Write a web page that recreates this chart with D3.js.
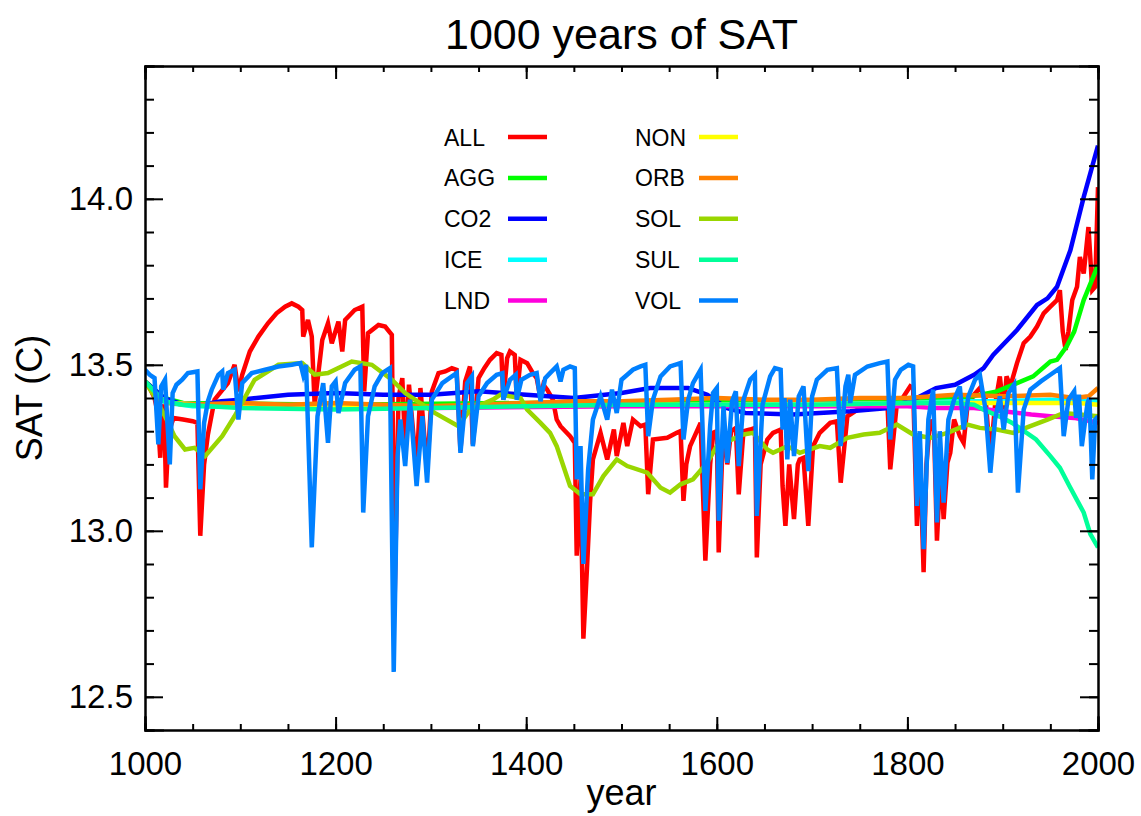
<!DOCTYPE html>
<html>
<head>
<meta charset="utf-8">
<script src="https://cdn.jsdelivr.net/npm/d3@7"></script>
<style>
  body { margin: 0; background: #fff; }
  svg { display: block; font-family: "Liberation Sans", Arial, Helvetica, sans-serif; }
  .axis path, .axis line { stroke: #000; stroke-width: 2px; }
  .axis text { fill: #000; }
</style>
</head>
<body>
<svg></svg>
<script>
// series as [year, SAT]
let names = ["ALL", "AGG", "CO2", "ICE", "LND", "NON", "ORB", "SOL", "SUL", "VOL"]
let colors = ["#ff0000", "#00ff00", "#0000ff", "#00ffff", "#ff00dd", "#ffff00", "#ff8000", "#99d600", "#00ff99", "#0080ff"]

let ALL = [[1000,13.45],[1005,13.43],[1010,13.40],[1013,13.36],[1016,13.22],[1018,13.36],[1020,13.38],[1022,13.13],[1025,13.30],[1030,13.34],[1040,13.335],[1050,13.33],[1055,13.325],[1058,12.985],[1062,13.20],[1066,13.29],[1073,13.395],[1080,13.42],[1087,13.445],[1094,13.50],[1098,13.42],[1102,13.47],[1110,13.54],[1119,13.585],[1129,13.625],[1138,13.655],[1147,13.675],[1154,13.685],[1161,13.675],[1165,13.665],[1166,13.585],[1171,13.635],[1175,13.585],[1178,13.38],[1186,13.575],[1192,13.625],[1196,13.565],[1203,13.63],[1207,13.54],[1210,13.635],[1220,13.665],[1228,13.675],[1230,13.42],[1234,13.595],[1245,13.62],[1252,13.615],[1259,13.59],[1262,12.80],[1266,13.40],[1270,13.46],[1273,13.25],[1277,13.44],[1285,13.18],[1289,13.43],[1296,13.18],[1301,13.42],[1308,13.475],[1315,13.48],[1322,13.49],[1327,13.485],[1331,13.24],[1336,13.45],[1341,13.495],[1344,13.26],[1350,13.46],[1356,13.49],[1362,13.515],[1369,13.535],[1374,13.53],[1376,13.395],[1380,13.52],[1383,13.54],[1388,13.53],[1390,13.40],[1394,13.515],[1401,13.505],[1407,13.475],[1411,13.46],[1415,13.40],[1418,13.44],[1422,13.425],[1428,13.395],[1432,13.335],[1436,13.315],[1446,13.285],[1451,13.265],[1453,12.925],[1457,13.155],[1460,12.675],[1464,12.90],[1467,13.085],[1470,13.215],[1478,13.295],[1485,13.215],[1492,13.305],[1495,13.225],[1502,13.325],[1506,13.255],[1512,13.335],[1520,13.315],[1525,13.32],[1528,13.11],[1533,13.275],[1548,13.28],[1558,13.295],[1562,13.30],[1565,13.09],[1568,13.20],[1572,13.255],[1583,13.325],[1588,12.91],[1593,13.20],[1596,13.295],[1600,13.30],[1602,12.935],[1607,13.335],[1611,13.20],[1615,13.30],[1620,13.31],[1623,13.11],[1628,13.30],[1635,13.305],[1640,13.31],[1642,12.92],[1646,13.20],[1653,13.275],[1659,13.295],[1667,13.305],[1669,13.135],[1672,13.015],[1676,13.20],[1681,13.035],[1685,13.20],[1687,13.215],[1691,13.22],[1696,13.015],[1701,13.255],[1708,13.295],[1719,13.325],[1726,13.33],[1730,13.145],[1737,13.345],[1745,13.36],[1751,13.37],[1761,13.385],[1771,13.39],[1779,13.39],[1782,13.185],[1789,13.385],[1795,13.40],[1803,13.435],[1806,13.43],[1810,13.015],[1813,13.25],[1817,12.875],[1820,13.20],[1824,13.335],[1828,13.30],[1831,12.97],[1835,13.20],[1838,13.035],[1842,13.205],[1845,13.235],[1849,13.335],[1855,13.285],[1859,13.265],[1863,13.375],[1870,13.41],[1876,13.43],[1882,13.40],[1887,13.215],[1892,13.38],[1897,13.465],[1901,13.36],[1904,13.465],[1908,13.435],[1915,13.505],[1922,13.565],[1929,13.585],[1936,13.615],[1943,13.655],[1950,13.675],[1957,13.695],[1960,13.725],[1963,13.60],[1966,13.545],[1969,13.60],[1973,13.695],[1978,13.735],[1981,13.825],[1985,13.775],[1990,13.915],[1994,13.725],[1997,13.735],[2000,14.035]]

let AGG = [[1000,13.45],[1020,13.40],[1040,13.385],[1200,13.38],[1400,13.385],[1600,13.39],[1800,13.39],[1860,13.40],[1894,13.42],[1915,13.445],[1932,13.465],[1950,13.51],[1957,13.515],[1967,13.555],[1975,13.60],[1985,13.695],[2000,13.80]]

let CO2 = [[1000,13.45],[1020,13.40],[1040,13.38],[1060,13.38],[1080,13.39],[1100,13.395],[1150,13.41],[1200,13.415],[1250,13.41],[1300,13.41],[1350,13.42],[1400,13.41],[1450,13.40],[1500,13.415],[1530,13.43],[1570,13.43],[1590,13.41],[1610,13.37],[1630,13.355],[1680,13.35],[1740,13.36],[1780,13.37],[1810,13.40],[1830,13.43],[1850,13.44],[1870,13.47],[1880,13.49],[1890,13.53],[1915,13.605],[1936,13.68],[1947,13.70],[1957,13.735],[1971,13.845],[1985,14.005],[2000,14.16]]

let ICE = [[1000,13.45],[1010,13.41],[1025,13.385],[1050,13.375],[1200,13.37],[1400,13.375],[1600,13.38],[1800,13.385],[1850,13.39],[1900,13.39],[1950,13.395],[2000,13.39]]

let LND = [[1000,13.45],[1010,13.41],[1025,13.385],[1100,13.375],[1300,13.37],[1500,13.375],[1700,13.375],[1800,13.375],[1830,13.37],[1870,13.37],[1900,13.36],[1930,13.35],[1950,13.345],[1975,13.34],[2000,13.325]]

let NON = [[1000,13.45],[1010,13.41],[1025,13.385],[1100,13.375],[1300,13.375],[1500,13.38],[1700,13.38],[1800,13.385],[1900,13.385],[1980,13.385],[2000,13.38]]

let ORB = [[1000,13.45],[1010,13.41],[1020,13.39],[1040,13.38],[1100,13.385],[1150,13.38],[1200,13.385],[1250,13.38],[1300,13.375],[1350,13.38],[1400,13.385],[1450,13.39],[1500,13.39],[1550,13.395],[1600,13.40],[1650,13.395],[1700,13.395],[1750,13.40],[1800,13.40],[1850,13.41],[1900,13.405],[1950,13.41],[1975,13.40],[1990,13.405],[2000,13.43]]

let SOL = [[1000,13.45],[1010,13.405],[1021,13.345],[1031,13.285],[1042,13.245],[1052,13.25],[1063,13.225],[1081,13.285],[1094,13.345],[1115,13.455],[1140,13.50],[1165,13.505],[1178,13.47],[1192,13.475],[1217,13.51],[1238,13.50],[1259,13.455],[1273,13.415],[1304,13.355],[1329,13.315],[1341,13.365],[1365,13.395],[1373,13.41],[1394,13.40],[1401,13.365],[1415,13.325],[1425,13.295],[1432,13.255],[1439,13.195],[1446,13.135],[1457,13.11],[1470,13.11],[1481,13.165],[1495,13.215],[1506,13.195],[1527,13.175],[1541,13.13],[1551,13.115],[1562,13.14],[1575,13.155],[1590,13.205],[1600,13.255],[1628,13.29],[1638,13.295],[1653,13.245],[1659,13.235],[1674,13.255],[1687,13.235],[1708,13.255],[1719,13.25],[1737,13.28],[1754,13.29],[1771,13.295],[1789,13.32],[1806,13.29],[1824,13.28],[1842,13.295],[1863,13.32],[1876,13.31],[1894,13.305],[1911,13.295],[1929,13.315],[1947,13.335],[1964,13.355],[1981,13.35],[2000,13.345]]

let SUL = [[1000,13.45],[1010,13.42],[1020,13.39],[1040,13.38],[1100,13.37],[1200,13.365],[1300,13.37],[1400,13.375],[1500,13.38],[1600,13.38],[1700,13.38],[1800,13.385],[1850,13.385],[1870,13.38],[1880,13.365],[1900,13.34],[1910,13.325],[1935,13.275],[1950,13.225],[1960,13.19],[1970,13.135],[1985,13.055],[1992,12.99],[2000,12.95]]

let VOL = [[1000,13.485],[1005,13.47],[1010,13.46],[1014,13.26],[1017,13.435],[1021,13.455],[1026,13.20],[1029,13.415],[1033,13.44],[1039,13.455],[1045,13.475],[1055,13.48],[1058,13.125],[1062,13.325],[1066,13.39],[1070,13.425],[1077,13.47],[1081,13.48],[1082,13.425],[1087,13.475],[1094,13.485],[1098,13.335],[1102,13.445],[1112,13.475],[1126,13.485],[1140,13.495],[1154,13.50],[1163,13.505],[1166,13.47],[1169,13.50],[1175,12.95],[1181,13.345],[1187,13.445],[1192,13.265],[1196,13.435],[1200,13.45],[1203,13.355],[1210,13.445],[1220,13.485],[1226,13.495],[1229,13.055],[1234,13.345],[1241,13.435],[1249,13.475],[1257,13.49],[1261,12.575],[1265,13.225],[1268,13.335],[1273,13.195],[1278,13.395],[1285,13.135],[1291,13.345],[1296,13.145],[1301,13.395],[1312,13.445],[1322,13.465],[1327,13.475],[1331,13.235],[1338,13.445],[1343,13.465],[1344,13.255],[1350,13.405],[1359,13.445],[1369,13.47],[1375,13.475],[1376,13.395],[1383,13.455],[1389,13.47],[1390,13.395],[1395,13.455],[1404,13.47],[1411,13.475],[1415,13.39],[1420,13.46],[1425,13.475],[1432,13.495],[1436,13.45],[1439,13.485],[1446,13.495],[1451,13.49],[1453,13.155],[1457,13.255],[1460,12.90],[1465,13.185],[1470,13.335],[1478,13.405],[1485,13.335],[1490,13.425],[1495,13.355],[1500,13.455],[1506,13.47],[1512,13.485],[1520,13.495],[1525,13.50],[1528,13.285],[1533,13.395],[1541,13.465],[1551,13.495],[1562,13.505],[1565,13.275],[1570,13.395],[1575,13.445],[1583,13.485],[1588,13.06],[1593,13.315],[1596,13.415],[1600,13.43],[1602,13.03],[1607,13.375],[1611,13.205],[1616,13.39],[1620,13.42],[1623,13.195],[1628,13.395],[1635,13.455],[1640,13.47],[1642,13.045],[1648,13.38],[1656,13.465],[1661,13.49],[1667,13.485],[1669,13.305],[1671,13.40],[1674,13.215],[1677,13.395],[1681,13.225],[1686,13.405],[1691,13.435],[1696,13.18],[1700,13.405],[1705,13.455],[1716,13.485],[1726,13.49],[1730,13.255],[1735,13.435],[1738,13.47],[1740,13.385],[1745,13.47],[1758,13.495],[1771,13.505],[1779,13.51],[1782,13.275],[1787,13.455],[1793,13.485],[1801,13.50],[1806,13.495],[1810,13.075],[1813,13.30],[1817,12.945],[1822,13.335],[1827,13.425],[1831,13.025],[1834,13.30],[1838,13.085],[1843,13.335],[1849,13.395],[1855,13.435],[1859,13.305],[1864,13.405],[1871,13.455],[1876,13.47],[1882,13.365],[1887,13.175],[1892,13.335],[1897,13.405],[1901,13.305],[1906,13.415],[1912,13.44],[1916,13.115],[1922,13.365],[1929,13.425],[1940,13.45],[1950,13.47],[1960,13.49],[1964,13.285],[1969,13.395],[1975,13.42],[1977,13.34],[1980,13.41],[1983,13.255],[1989,13.385],[1991,13.40],[1994,13.155],[1997,13.335],[2000,13.345]]

let series = [ALL, AGG, CO2, ICE, LND, NON, ORB, SOL, SUL, VOL]

let xMajor = [1000, 1200, 1400, 1600, 1800, 2000]
let yMajor = [12.5, 13.0, 13.5, 14.0]

let width = 1141
let height = 816
let padLeft = 145, padRight = 1098, padTop = 66, padBottom = 730

let svg = d3.select('svg').attr('width', width).attr('height', height)

let xScale = d3.scaleLinear().domain([1000, 2000]).range([padLeft, padRight])
let yScale = d3.scaleLinear().domain([12.4, 14.4]).range([padBottom, padTop])

let xMinor = d3.range(1000, 2001, 50)
let yMinor = d3.range(124, 145, 1).map(d => d / 10)

svg.append('clipPath').attr('id', 'plot')
  .append('rect')
  .attr('x', padLeft).attr('y', padTop)
  .attr('width', padRight - padLeft).attr('height', padBottom - padTop)

// lines, first series at the bottom
let line = d3.line().x(d => xScale(d[0])).y(d => yScale(d[1]))
let lines = svg.append('g').attr('clip-path', 'url(#plot)')
series.forEach((s, i) => {
  lines.append('path')
    .datum(s)
    .attr('d', line)
    .attr('fill', 'none')
    .attr('stroke', colors[i])
    .attr('stroke-width', 4.5)
    .attr('stroke-linejoin', 'miter')
})

// axes: inward ticks on all four sides
let addAxis = (axis, tx, ty) => {
  let g = svg.append('g').attr('class', 'axis')
    .attr('transform', 'translate(' + tx + ',' + ty + ')')
    .call(axis)
  return g
}

let xb = addAxis(d3.axisBottom(xScale).tickValues(xMajor).tickSize(-13).tickPadding(22).tickFormat(d3.format('d')), 0, padBottom)
xb.selectAll('text').attr('font-size', 33)
addAxis(d3.axisBottom(xScale).tickValues(xMinor).tickSize(-6).tickFormat(''), 0, padBottom)
addAxis(d3.axisTop(xScale).tickValues(xMajor).tickSize(-13).tickFormat(''), 0, padTop)
addAxis(d3.axisTop(xScale).tickValues(xMinor).tickSize(-6).tickFormat(''), 0, padTop)

let yl = addAxis(d3.axisLeft(yScale).tickValues(yMajor).tickSize(-18).tickPadding(12).tickFormat(d3.format('.1f')), padLeft, 0)
yl.selectAll('text').attr('font-size', 33)
addAxis(d3.axisLeft(yScale).tickValues(yMinor).tickSize(-9).tickFormat(''), padLeft, 0)
addAxis(d3.axisRight(yScale).tickValues(yMajor).tickSize(-18).tickFormat(''), padRight, 0)
addAxis(d3.axisRight(yScale).tickValues(yMinor).tickSize(-9).tickFormat(''), padRight, 0)

svg.selectAll('.axis path').attr('stroke-linecap', 'square')

// titles
svg.append('text')
  .attr('x', (padLeft + padRight) / 2).attr('y', 49)
  .attr('text-anchor', 'middle')
  .attr('font-size', 43)
  .text('1000 years of SAT')

svg.append('text')
  .attr('x', (padLeft + padRight) / 2).attr('y', 805)
  .attr('text-anchor', 'middle')
  .attr('font-size', 36)
  .text('year')

svg.append('text')
  .attr('transform', 'translate(42,' + ((padTop + padBottom) / 2) + ') rotate(-90)')
  .attr('text-anchor', 'middle')
  .attr('font-size', 36)
  .text('SAT (C)')

// legend, two columns of five
let legend = svg.append('g')
names.forEach((n, i) => {
  let col = Math.floor(i / 5)
  let row = i % 5
  let tx = col === 0 ? 444 : 635
  let lx = col === 0 ? 508 : 699
  let cy = 137 + row * 40.9
  legend.append('text')
    .attr('x', tx).attr('y', cy + 8.5)
    .attr('font-size', 23)
    .text(n)
  legend.append('line')
    .attr('x1', lx).attr('x2', lx + 39)
    .attr('y1', cy).attr('y2', cy)
    .attr('stroke', colors[i])
    .attr('stroke-width', 4.5)
})
</script>
</body>
</html>
